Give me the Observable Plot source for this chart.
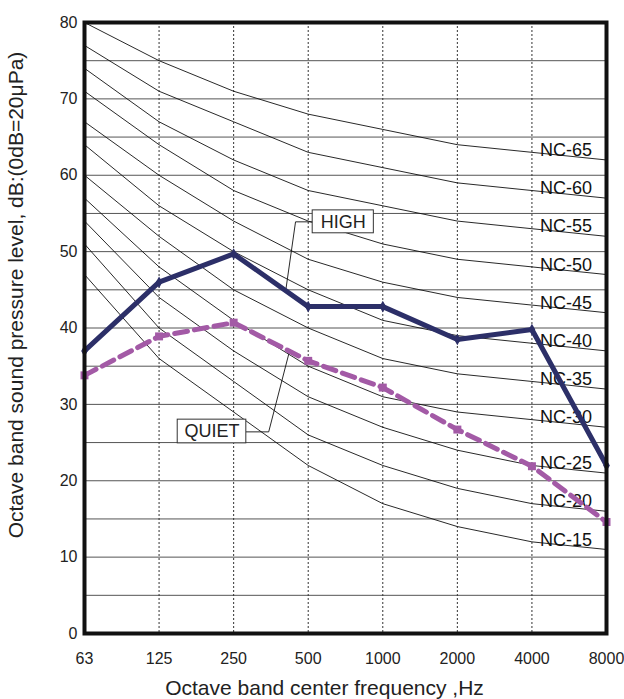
<!DOCTYPE html>
<html>
<head>
<meta charset="utf-8">
<script src="https://cdn.jsdelivr.net/npm/d3@7"></script>
<script src="https://cdn.jsdelivr.net/npm/@observablehq/plot@0.6"></script>
<style>
  html, body { margin: 0; padding: 0; background: #fff; }
  #chart svg { display: block; font-family: "Liberation Sans", Arial, Helvetica, sans-serif; }
</style>
</head>
<body>
<div id="chart"></div>
<script>
// Octave band centre frequencies (Hz)
const bands = ["63", "125", "250", "500", "1000", "2000", "4000", "8000"];

// NC criterion curves
const ncLevels = [15, 20, 25, 30, 35, 40, 45, 50, 55, 60, 65];
const ncCurves = [
  [47, 36, 29, 22, 17, 14, 12, 11],
  [51, 40, 33, 26, 22, 19, 17, 16],
  [54, 44, 37, 31, 27, 24, 22, 21],
  [57, 48, 41, 35, 31, 29, 28, 27],
  [60, 52, 45, 40, 36, 34, 33, 32],
  [64, 56, 50, 45, 41, 39, 38, 37],
  [67, 60, 54, 49, 46, 44, 43, 42],
  [71, 64, 58, 54, 51, 49, 48, 47],
  [74, 67, 62, 58, 56, 54, 53, 52],
  [77, 71, 67, 63, 61, 59, 58, 57],
  [80, 75, 71, 68, 66, 64, 63, 62]
];

// Measured spectra (dB)
const high  = [37.0, 46.0, 49.7, 42.8, 42.8, 38.5, 39.8, 22.0];
const quiet = [33.8, 38.9, 40.7, 35.7, 32.2, 26.7, 21.9, 14.6];

// Axis ticks
const yTicks = [0, 10, 20, 30, 40, 50, 60, 70, 80];
const yGrid = [5, 10, 15, 20, 25, 30, 35, 40, 45, 50, 55, 60, 65, 70, 75];

const yTitle = "Octave band sound pressure level, dB:(0dB=20μPa)";
const xTitle = "Octave band center frequency ,Hz";

// Build tables
const idx = bands.map((b, i) => i);
const ncRows = ncLevels.flatMap((nc, k) => idx.map(i => ({nc, i, v: ncCurves[k][i]})));
const ncLabels = ncLevels.map((nc, k) => ({label: `NC-${nc}`, i: 6, v: ncCurves[k][6]}));
const highRows = idx.map(i => ({i, v: high[i]}));
const quietRows = idx.map(i => ({i, v: quiet[i]}));

const navy = "#2c2f68";
const purple = "#a35aa6";

// Callout annotations (in data units: band index, dB)
const boxes = [
  {label: "HIGH",  x1: 3.06, x2: 3.88, y1: 52.4, y2: 55.4},
  {label: "QUIET", x1: 1.25, x2: 2.17, y1: 24.9, y2: 28.0}
];
const leaders = [
  {g: "HIGH",  i: 3.06, v: 53.9}, {g: "HIGH",  i: 2.83, v: 53.9}, {g: "HIGH",  i: 2.70, v: 45.0},
  {g: "QUIET", i: 2.17, v: 26.4}, {g: "QUIET", i: 2.47, v: 26.4}, {g: "QUIET", i: 2.75, v: 37.0}
];

const chart = Plot.plot({
  width: 624,
  height: 699,
  marginLeft: 84,
  marginRight: 18,
  marginTop: 22,
  marginBottom: 66,
  style: {fontFamily: "'Liberation Sans', Arial, Helvetica, sans-serif", color: "#222", background: "#fff"},
  x: {type: "linear", domain: [0, 7], axis: null},
  y: {domain: [0, 80], axis: null},
  marks: [
    Plot.ruleY(yGrid, {stroke: "#555", strokeWidth: 1}),
    Plot.ruleX([1, 2, 3, 4, 5, 6], {stroke: "#333", strokeWidth: 1, strokeDasharray: "2,2"}),
    Plot.line(ncRows, {x: "i", y: "v", z: "nc", stroke: "#111", strokeWidth: 0.9}),
    Plot.text(ncLabels, {x: "i", y: "v", text: "label", textAnchor: "start", dx: 8, dy: -2, fontSize: 18, fill: "#111"}),
    Plot.line(leaders, {x: "i", y: "v", z: "g", stroke: "#111", strokeWidth: 0.9}),
    Plot.line(highRows, {x: "i", y: "v", stroke: navy, strokeWidth: 5, strokeLinejoin: "miter"}),
    Plot.dot(highRows, {x: "i", y: "v", symbol: "diamond", r: 3.5, fill: navy}),
    Plot.line(quietRows, {x: "i", y: "v", stroke: purple, strokeWidth: 5, strokeDasharray: "13,7"}),
    Plot.dot(quietRows, {x: "i", y: "v", symbol: "square", r: 4.5, fill: purple}),
    Plot.rect(boxes, {x1: "x1", x2: "x2", y1: "y1", y2: "y2", fill: "white", stroke: "#333", strokeWidth: 1}),
    Plot.text(boxes, {x: d => (d.x1 + d.x2) / 2, y: d => (d.y1 + d.y2) / 2, text: "label", fontSize: 18, fill: "#222"}),
    Plot.axisX(idx, {tickFormat: i => bands[i], tickSize: 0, tickPadding: 19, fontSize: 16, label: null}),
    Plot.axisY(yTicks, {tickSize: 0, tickPadding: 7, fontSize: 16, label: null}),
    Plot.text([yTitle], {frameAnchor: "left", textAnchor: "middle", lineAnchor: "middle", rotate: -90, dx: -68, dy: -33, fontSize: 21, fill: "#222"}),
    Plot.text([xTitle], {frameAnchor: "bottom", textAnchor: "middle", lineAnchor: "middle", dx: -21, dy: 55, fontSize: 21, fill: "#222"}),
    Plot.frame({stroke: "#111", strokeWidth: 4})
  ]
});
document.getElementById("chart").appendChild(chart);
</script>
</body>
</html>
